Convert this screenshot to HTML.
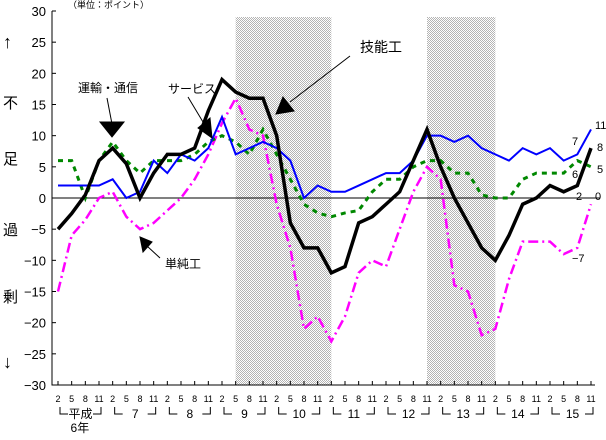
<!DOCTYPE html>
<html><head><meta charset="utf-8"><style>
body{margin:0;background:#fff;}
svg text{font-family:"Liberation Sans","Noto Sans CJK JP",sans-serif;}
</style></head><body>
<svg id="c" width="606" height="435" viewBox="0 0 606 435">
<defs><pattern id="chk" width="2" height="2" patternUnits="userSpaceOnUse"><rect width="2" height="2" fill="#fff"/><rect width="1" height="1" fill="#b4b4b4"/><rect x="1" y="1" width="1" height="1" fill="#b4b4b4"/></pattern></defs>
</svg>
<script>
const quarters=["2","5","8","11"];
const years=["平成","7","8","9","10","11","12","13","14","15"];
const yTicks=[30,25,20,15,10,5,0,-5,-10,-15,-20,-25,-30];
const recessions=[[13,20],[27,32]];
const skilled=[-5,-2.5,0.5,6,8,5.5,0,4,7,7,8,14,19,17,16,16,10,-4,-8,-8,-12,-11,-4,-3,-1,1,6,11,5,0,-4,-8,-10,-6,-1,0,2,1,2,8];
const allWorkers=[2,2,2,2,3,0,1,6,4,7,6,8,13,7,8,9,8,6,0,2,1,1,2,3,4,4,6,10,10,9,10,8,7,6,8,7,8,6,7,11];
const transport=[6,6,0,6,9,6,4,6,6,6,7,9,10,9,7,11,7,3,-1,-2.4,-3,-2.4,-2,1,3,3,5,6,6,4,4,0.5,0,0,3,4,4,4,6,5];
const unskilled=[-15,-6,-3.5,0,1,-3,-5,-4,-2,0,3,7,12,16,11,10,-1,-8,-21,-19,-23,-19,-12,-10,-11,-5,1,5,3,-14,-15,-22,-21,-13,-7,-7,-7,-9,-8,-1];
const NS="http://www.w3.org/2000/svg",svg=document.getElementById("c");
const X0=58,DX=(591-58)/39;
const xs=i=>X0+i*DX, ys=v=>198-v*(374/60);
function el(t,a,p){const e=document.createElementNS(NS,t);for(const k in a)e.setAttribute(k,a[k]);(p||svg).appendChild(e);return e;}
recessions.forEach(r=>{const e=el("rect",{x:xs(r[0]),y:17,width:xs(r[1])-xs(r[0]),height:385-17,fill:"url(#chk)"});

});
const ax=el("path",{d:"M52,11V385H595",stroke:"#000",fill:"none","stroke-width":1});


const zl=el("line",{x1:52,x2:600,y1:ys(0),y2:ys(0),stroke:"#000"});


yTicks.forEach(v=>{el("line",{x1:52,x2:56,y1:ys(v),y2:ys(v),stroke:"#000"});
const t=el("text",{x:46,y:ys(v)+5,"text-anchor":"end","font-size":13});t.textContent=v<0?"−"+(-v):v;

});
for(let i=0;i<40;i++){el("line",{x1:xs(i),x2:xs(i),y1:381,y2:385,stroke:"#000"});
const t=el("text",{x:xs(i),y:402,"text-anchor":"middle","font-size":9});t.textContent=quarters[i%4];

}
years.forEach((y,k)=>{const a=xs(k*4)+2,b=xs(k*4+3)+2;
el("path",{d:`M${a},407V414H${a+8}M${b-8},414H${b}V407`,stroke:"#000",fill:"none"});
const t=el("text",{x:(a+b)/2,y:418,"text-anchor":"middle","font-size":12});t.textContent=y;

});
const t6=el("text",{x:xs(1.6),y:432,"text-anchor":"middle","font-size":12});t6.textContent="6年";


function line(d,attrs,name){const p=el("polyline",Object.assign({points:d.map((v,i)=>xs(i)+","+ys(v)).join(" "),fill:"none"},attrs));

}
line(unskilled,{stroke:"#f0f","stroke-width":2.5,"stroke-dasharray":"10,4,2,4"},"unskilled-line");
line(transport,{stroke:"#080","stroke-width":3,"stroke-dasharray":"5,5"},"transport-line");
line(allWorkers,{stroke:"#00f","stroke-width":2},"service-line");
line(skilled,{stroke:"#000","stroke-width":3.5},"skilled-line");
function txt(x,y,s,fs,name){const t=el("text",{x:x,y:y,"font-size":fs});t.textContent=s;

}
txt(68,8,"（単位：ポイント）",9,"unit-label");
[["↑",48],["不",108],["足",164],["過",235],["剰",302],["↓",368]].forEach(a=>txt(3,a[1],a[0],a[0]=="↑"||a[0]=="↓"?18:15,"y-axis-title"));
txt(78,92,"運輸・通信",12,"transport-annotation");
txt(168,93,"サービス",12,"service-annotation");
txt(360,52,"技能工",14,"skilled-annotation");
txt(165,268,"単純工",12,"unskilled-annotation");
el("path",{d:"M107,98L112,124M100,122L124,122L112,137Z",stroke:"#000",fill:"#000"});
el("path",{d:"M188,97L203,122M198,128L210,118L212,138Z",stroke:"#000",fill:"#000"});
el("path",{d:"M350,56L290,102M283,97L294,111L276,114Z",stroke:"#000",fill:"#000"});
el("path",{d:"M160,258L147,246M143,252L152,242L140,237Z",stroke:"#000",fill:"#000"});
[["11",595,129],["7",572,145],["8",597,151],["5",597,173],["6",572,178],["2",576,200],["0",595,200],["−7",572,262]].forEach(a=>txt(a[1],a[2],a[0],11,"end-value-label"));
</script>
</body></html>
